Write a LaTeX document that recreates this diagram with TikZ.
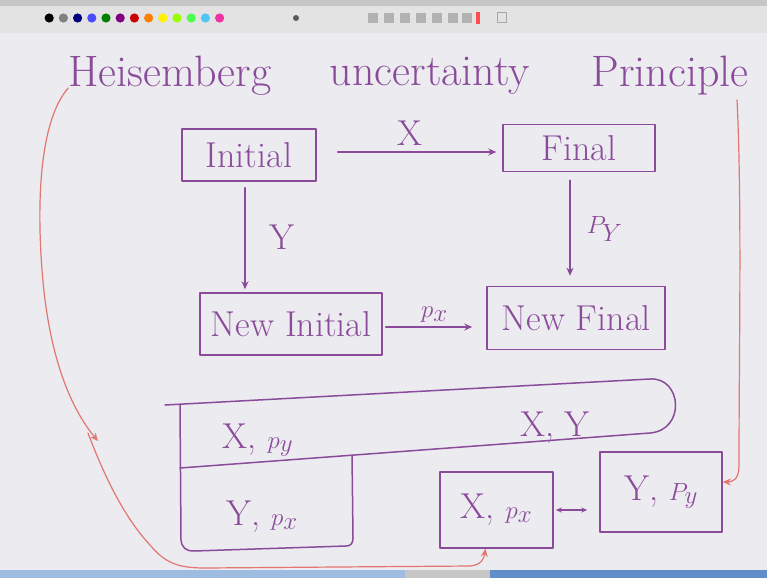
\documentclass[tikz,border=0pt]{standalone}
\usetikzlibrary{arrows.meta}
\definecolor{bg}{HTML}{ECEBF0}
\definecolor{ink}{HTML}{8A4C9A}
\definecolor{redink}{HTML}{E27670}
\definecolor{barblue}{HTML}{5E8FCB}
\tikzset{
  pen/.style={draw=ink, line width=1.5pt, line cap=round, line join=round},
  box/.style={pen, rectangle, inner sep=0pt, text=ink, font=\fontsize{36}{42}\selectfont},
  txt/.style={text=ink, inner sep=0pt, font=\fontsize{36}{42}\selectfont},
  ttl/.style={text=ink, inner sep=0pt, font=\fontsize{44}{50}\selectfont},
  lbl/.style={text=ink, inner sep=0pt, font=\fontsize{36}{42}\selectfont},
  conn/.style={pen, -{Stealth[length=8pt,width=7pt]}},
  redconn/.style={draw=redink, line width=1.2pt, line cap=round, -{Stealth[length=8pt,width=7pt]}},
}
\begin{document}
\begin{tikzpicture}[x=1pt,y=-1pt]
\useasboundingbox (0,0) rectangle (767,578);
% background and screen chrome
\fill[bg] (0,0) rectangle (767,578);
\fill[gray!22] (0,0) rectangle (767,33);
\fill[gray!45] (0,0) rectangle (767,6);
\foreach \c [count=\i] in {black,gray,blue!50!black,blue!70,green!50!black,violet,red!80!black,orange,yellow,lime!80!green,green!70,cyan!70,magenta!80}
  \fill[\c] ({35+\i*14.2},18) circle (4.6);
\fill[gray!70!black] (296,18) circle (3);
\foreach \xx in {368,384,400,416,432,448,462}
  \fill[gray!60] (\xx,13) rectangle ++(10,10);
\fill[red!70] (476,12) rectangle ++(4,12);
\draw[gray!70, line width=1pt] (497,13) rectangle ++(9,10);
\fill[barblue!60] (0,570) rectangle (405,578);
\fill[gray!45] (405,570) rectangle (490,578);
\fill[barblue] (490,570) rectangle (767,578);

% title
\node[ttl] (t1) at (170,76) {Heisemberg};
\node[ttl] (t2) at (430,76) {uncertainty};
\node[ttl] (t3) at (670,76) {Principle};

% top flow
\node[box, minimum width=134pt, minimum height=52pt] (ini) at (249,155) {Initial};
\node[box, minimum width=152pt, minimum height=47pt] (fin) at (579,148) {Final};
\node[box, minimum width=182pt, minimum height=62pt] (nini) at (291,324) {New Initial};
\node[box, minimum width=178pt, minimum height=63pt] (nfin) at (576,318) {New Final};

\draw[conn, shorten <=21pt, shorten >=6pt] ([yshift=3pt]ini.east) -- ([yshift=3pt]ini.east -| fin.west)
  node[lbl, midway, above=6pt] {X};
\draw[conn, shorten <=6pt, shorten >=3pt] ([xshift=-4pt]ini.south) -- ([xshift=-4pt]ini.south |- nini.north)
  node[lbl, midway, right=24pt] {Y};
\draw[conn, shorten <=8pt, shorten >=10pt] ([xshift=-9pt]fin.south) -- ([xshift=-9pt]fin.south |- nfin.north)
  node[lbl, midway, right=16pt] {$P_{Y}$};
\draw[conn, shorten <=3pt, shorten >=14pt] ([yshift=-3pt]nini.east) -- ([yshift=-3pt]nini.east -| nfin.west)
  node[lbl, midway, above=4pt] {$p_{x}$};

% combined region
\draw[pen] (165,405) -- (650,379) .. controls (682,377) and (686,430) .. (650,433) -- (180,468);
\draw[pen] (180,405) -- (181,540) .. controls (182,548) and (186,551) .. (194,551) -- (346,546) .. controls (351,546) and (353,543) .. (353,538) -- (352,455);
\node[txt] (xpy) at (258,440) {X, $p_{y}$};
\node[txt] (xy) at (555,428) {X, Y};
\node[txt] (ypx) at (262,517) {Y, $p_{x}$};

% bottom right pairs
\node[box, minimum width=113pt, minimum height=76pt] (xpx) at (496.5,510) {X, $p_{x}$};
\node[box, minimum width=122pt, minimum height=80pt] (ypy) at (661,492) {Y, $P_{y}$};
\draw[pen, line width=1.2pt, {Stealth[length=6pt,width=5pt]}-{Stealth[length=6pt,width=5pt]}, shorten <=2pt, shorten >=12pt]
  (xpx.east) -- (xpx.east -| ypy.west);

% red connectors
\coordinate (r1e) at (98,441);
\coordinate (r2s) at (88,433);
\coordinate (r3s) at (737,100);
\draw[redconn] ([yshift=-12pt]t1.west) .. controls (42,118) and (36,190) .. (42,270)
  .. controls (48,350) and (68,405) .. (r1e);
\draw[redconn] (r2s) .. controls (102,470) and (122,515) .. (150,545)
  .. controls (165,563) and (178,568) .. (205,568) -- (470,566)
  .. controls (482,565) and (484,558) .. ([xshift=-11pt]xpx.south);
\draw[redconn] (r3s) .. controls (742,200) and (739,350) .. (739,466)
  .. controls (739,480) and (732,482) .. ([yshift=10pt]ypy.east);
\end{tikzpicture}
\end{document}
